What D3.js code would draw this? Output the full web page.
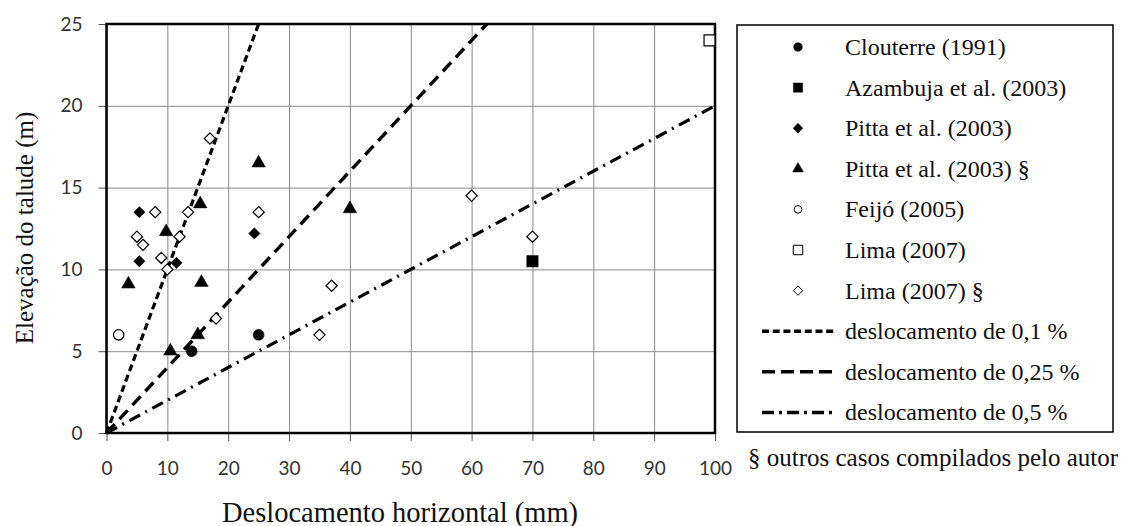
<!DOCTYPE html>
<html>
<head>
<meta charset="utf-8">
<script src="https://cdnjs.cloudflare.com/ajax/libs/d3/7.8.5/d3.min.js"></script>
<style>
  body { margin: 0; background: #fff; }
  svg { display: block; }
  .tick text { font-family: Lato, "Open Sans", sans-serif; font-size: 19px; fill: #333; }
  .serif { font-family: "Liberation Serif", "DejaVu Serif", serif; fill: #111; }
</style>
</head>
<body>
<svg width="1121" height="526"></svg>
<script>
"use strict"

// series: [deslocamento (mm), elevação (m)]
const clouterre = [[14, 5], [25, 6]]
const azambuja = [[70, 10.5]]
const pitta = [[5.4, 13.5], [24.3, 12.2], [5.4, 10.5], [11.5, 10.4]]
const pittaOutros = [[15.4, 14], [25, 16.5], [9.8, 12.3], [3.6, 9.1], [15.6, 9.2], [10.5, 5], [15, 6], [40, 13.7]]
const feijo = [[2, 6]]
const lima = [[99.1, 24]]
const limaOutros = [[8, 13.5], [13.4, 13.5], [25, 13.5], [5, 12], [6, 11.5], [12, 12], [9, 10.7], [10, 10],
  [17, 18], [18, 7], [37, 9], [35, 6], [60, 14.5], [70, 12]]

// reference lines (endpoints)
const line01 = [[0, 0], [25, 25]]
const line025 = [[0, 0], [62.5, 25]]
const line05 = [[0, 0], [100, 20]]

const xTicks = [0, 10, 20, 30, 40, 50, 60, 70, 80, 90, 100]
const yTicks = [0, 5, 10, 15, 20, 25]

let svg = d3.select("svg")

let margin = {left: 106.5, top: 24, right: 715, bottom: 433}

let x = d3.scaleLinear().domain([0, 100]).range([margin.left, margin.right])
let y = d3.scaleLinear().domain([0, 25]).range([margin.bottom, margin.top])

// grid
svg.append("g")
  .attr("transform", "translate(0," + margin.bottom + ")")
  .call(d3.axisBottom(x).tickValues(xTicks).tickSize(-(margin.bottom - margin.top)).tickFormat(""))
  .call(g => g.select(".domain").remove())
  .selectAll("line").attr("stroke", "#8a8a8a").attr("stroke-width", 1)

svg.append("g")
  .attr("transform", "translate(" + margin.left + ",0)")
  .call(d3.axisLeft(y).tickValues(yTicks).tickSize(-(margin.right - margin.left)).tickFormat(""))
  .call(g => g.select(".domain").remove())
  .selectAll("line").attr("stroke", "#8a8a8a").attr("stroke-width", 1)

// axes with labels
let xAxis = svg.append("g")
  .attr("transform", "translate(0," + margin.bottom + ")")
  .call(d3.axisBottom(x).tickValues(xTicks).tickSize(8).tickPadding(21))
xAxis.select(".domain").remove()
xAxis.selectAll("line").attr("stroke", "#555").attr("stroke-width", 1)

let yAxis = svg.append("g")
  .attr("transform", "translate(" + margin.left + ",0)")
  .call(d3.axisLeft(y).tickValues(yTicks).tickSize(8).tickPadding(16))
yAxis.select(".domain").remove()
yAxis.selectAll("line").attr("stroke", "#555").attr("stroke-width", 1)

// frame
svg.append("rect")
  .attr("x", margin.left).attr("y", margin.top)
  .attr("width", margin.right - margin.left).attr("height", margin.bottom - margin.top)
  .attr("fill", "none").attr("stroke", "#000").attr("stroke-width", 2.5)

// reference lines
let lineGen = d3.line().x(d => x(d[0])).y(d => y(d[1]))
let refLines = [
  {pts: line01, dash: "7,4", w: 3.2},
  {pts: line025, dash: "12,7", w: 3.4},
  {pts: line05, dash: "12,6,2,6", w: 3.2}
]
svg.append("g").selectAll("path")
  .data(refLines)
  .enter().append("path")
    .attr("d", d => lineGen(d.pts))
    .attr("fill", "none")
    .attr("stroke", "#000")
    .attr("stroke-width", d => d.w)
    .attr("stroke-dasharray", d => d.dash)

// series definitions
let series = [
  {name: "Clouterre (1991)", data: clouterre, shape: d3.symbolCircle, size: 95, legSize: 60, fill: "#000"},
  {name: "Azambuja et al. (2003)", data: azambuja, shape: d3.symbolSquare, size: 130, legSize: 85, fill: "#000"},
  {name: "Pitta et al. (2003)", data: pitta, shape: d3.symbolDiamond2, size: 82, legSize: 60, fill: "#000"},
  {name: "Pitta et al. (2003) §", data: pittaOutros, shape: d3.symbolTriangle, size: 80, legSize: 50, fill: "#000"},
  {name: "Feijó (2005)", data: feijo, shape: d3.symbolCircle, size: 85, legSize: 45, fill: "#fff"},
  {name: "Lima (2007)", data: lima, shape: d3.symbolSquare, size: 120, legSize: 90, fill: "#fff"},
  {name: "Lima (2007) §", data: limaOutros, shape: d3.symbolDiamond2, size: 80, legSize: 56, fill: "#fff"}
]

series.forEach(s => {
  svg.append("g").selectAll("path")
    .data(s.data)
    .enter().append("path")
      .attr("d", d3.symbol().type(s.shape).size(s.size))
      .attr("transform", d => "translate(" + x(d[0]) + "," + y(d[1]) + ")")
      .attr("fill", s.fill)
      .attr("stroke", "#000")
      .attr("stroke-width", s.fill === "#fff" ? 1.2 : 0.5)
})

// legend
let legend = svg.append("g")
legend.append("rect")
  .attr("x", 737).attr("y", 25).attr("width", 376).attr("height", 407)
  .attr("fill", "#fff").attr("stroke", "#000").attr("stroke-width", 1.5)

let rowY = i => 47 + i * 40.6

series.forEach((s, i) => {
  legend.append("path")
    .attr("d", d3.symbol().type(s.shape).size(s.legSize))
    .attr("transform", "translate(798," + rowY(i) + ")")
    .attr("fill", s.fill)
    .attr("stroke", "#000")
    .attr("stroke-width", s.fill === "#fff" ? 1 : 0.5)
  legend.append("text")
    .attr("class", "serif")
    .attr("x", 845).attr("y", rowY(i))
    .attr("dominant-baseline", "central")
    .style("font-size", "24px")
    .text(s.name)
})

let lineNames = ["deslocamento de 0,1 %", "deslocamento de 0,25 %", "deslocamento de 0,5 %"]
let legDash = ["7,3.7", "13,6", "12,5,3,5"]
lineNames.forEach((n, j) => {
  let yy = rowY(series.length + j)
  legend.append("line")
    .attr("x1", 762).attr("x2", 837).attr("y1", yy).attr("y2", yy)
    .attr("stroke", "#000").attr("stroke-width", 3.5)
    .attr("stroke-dasharray", legDash[j])
  legend.append("text")
    .attr("class", "serif")
    .attr("x", 845).attr("y", yy)
    .attr("dominant-baseline", "central")
    .style("font-size", "24px")
    .text(n)
})

svg.append("text")
  .attr("class", "serif")
  .attr("x", 748).attr("y", 457)
  .attr("dominant-baseline", "central")
  .style("font-size", "25px")
  .text("§ outros casos compilados pelo autor")

// axis titles
svg.append("text")
  .attr("class", "serif")
  .attr("x", 400).attr("y", 512)
  .attr("text-anchor", "middle")
  .attr("dominant-baseline", "central")
  .style("font-size", "28.5px")
  .text("Deslocamento horizontal (mm)")

svg.append("text")
  .attr("class", "serif")
  .attr("transform", "translate(24,228) rotate(-90)")
  .attr("text-anchor", "middle")
  .attr("dominant-baseline", "central")
  .style("font-size", "25px")
  .text("Elevação do talude (m)")
</script>
</body>
</html>
